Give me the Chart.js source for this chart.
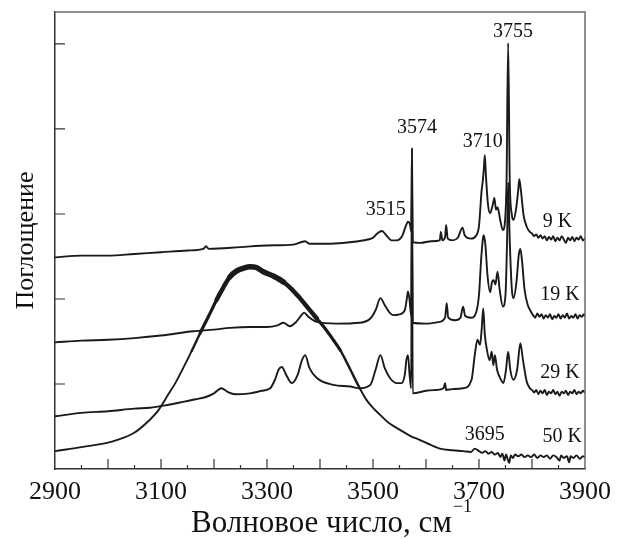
<!DOCTYPE html>
<html>
<head>
<meta charset="utf-8">
<script src="https://cdn.jsdelivr.net/npm/chart.js@4"></script>
<style>
  body { margin: 0; background: #fff; }
</style>
</head>
<body>
<canvas id="myChart" width="624" height="539"></canvas>
<script>
// [wavenumber, absorbance (offset)]
const spectrum9K = [
  [2900, 2.49], [2950, 2.51], [3000, 2.51], [3050, 2.53], [3100, 2.55], [3150, 2.57], [3180, 2.59],
  [3185, 2.62], [3190, 2.59], [3250, 2.61], [3300, 2.63], [3350, 2.64], [3365, 2.67], [3372, 2.68],
  [3380, 2.65], [3420, 2.65], [3460, 2.67], [3490, 2.70], [3500, 2.72], [3508, 2.77], [3517, 2.80],
  [3525, 2.75], [3535, 2.69], [3545, 2.69], [3555, 2.74], [3562, 2.86], [3566, 2.91], [3570, 2.87],
  [3572, 2.80], [3573.5, 3.77], [3575, 2.67], [3590, 2.66], [3610, 2.68], [3626, 2.69], [3628, 2.79],
  [3631, 2.69], [3636, 2.73], [3638, 2.87], [3641, 2.71], [3650, 2.69], [3660, 2.72], [3669, 2.84],
  [3673, 2.75], [3685, 2.71], [3695, 2.75], [3700, 2.86], [3705, 3.28], [3707, 3.38], [3709, 3.52],
  [3711, 3.69], [3713, 3.46], [3717, 3.11], [3721, 3.01], [3726, 3.11], [3729, 3.19], [3732, 3.05],
  [3735, 3.08], [3740, 2.93], [3745, 2.81], [3749, 2.91], [3752, 3.40], [3755, 5.01], [3758, 3.40],
  [3762, 2.99], [3765, 2.93], [3770, 3.06], [3774, 3.28], [3776, 3.41], [3779, 3.28], [3784, 2.99],
  [3790, 2.85], [3796, 2.79], [3800, 2.77], [3804, 2.74], [3808, 2.76], [3812, 2.72], [3816, 2.75],
  [3820, 2.71], [3824, 2.74], [3828, 2.69], [3832, 2.73], [3836, 2.70], [3840, 2.74], [3844, 2.68],
  [3848, 2.72], [3852, 2.69], [3856, 2.74], [3860, 2.70], [3864, 2.66], [3868, 2.72], [3872, 2.69],
  [3876, 2.73], [3880, 2.68], [3884, 2.72], [3888, 2.70], [3892, 2.74], [3896, 2.69], [3900, 2.71]
];

const spectrum19K = [
  [2900, 1.49], [2950, 1.51], [3000, 1.52], [3050, 1.54], [3100, 1.57], [3161, 1.62], [3200, 1.64],
  [3230, 1.66], [3270, 1.67], [3300, 1.67], [3320, 1.69], [3331, 1.72], [3343, 1.68], [3355, 1.73],
  [3365, 1.81], [3370, 1.84], [3378, 1.79], [3394, 1.73], [3431, 1.71], [3475, 1.72], [3495, 1.77],
  [3505, 1.87], [3514, 2.01], [3522, 1.93], [3530, 1.85], [3538, 1.81], [3550, 1.82], [3560, 1.87],
  [3564, 2.01], [3566, 2.09], [3569, 1.99], [3572, 1.80], [3573.5, 3.50], [3575, 1.72], [3600, 1.71],
  [3625, 1.73], [3636, 1.78], [3639, 1.95], [3642, 1.78], [3655, 1.75], [3665, 1.78], [3670, 1.91],
  [3674, 1.80], [3685, 1.78], [3695, 1.85], [3700, 2.05], [3704, 2.46], [3707, 2.69], [3709, 2.75],
  [3712, 2.64], [3716, 2.28], [3721, 2.08], [3725, 2.21], [3728, 2.22], [3731, 2.17], [3735, 2.32],
  [3739, 2.11], [3745, 1.91], [3750, 2.05], [3753, 2.69], [3755, 3.37], [3758, 2.69], [3762, 2.11],
  [3765, 2.01], [3771, 2.22], [3775, 2.52], [3778, 2.59], [3781, 2.46], [3786, 2.11], [3792, 1.93],
  [3798, 1.85], [3802, 1.81], [3806, 1.78], [3810, 1.83], [3814, 1.79], [3818, 1.82], [3822, 1.77],
  [3826, 1.81], [3830, 1.78], [3834, 1.82], [3838, 1.76], [3842, 1.80], [3846, 1.78], [3850, 1.82],
  [3854, 1.77], [3858, 1.81], [3862, 1.78], [3866, 1.83], [3870, 1.77], [3874, 1.80], [3878, 1.78],
  [3882, 1.82], [3886, 1.77], [3890, 1.81], [3894, 1.79], [3898, 1.82], [3900, 1.80]
];

const spectrum29K = [
  [2900, 0.62], [2950, 0.66], [3000, 0.68], [3050, 0.71], [3079, 0.72], [3110, 0.75], [3142, 0.79],
  [3165, 0.82], [3186, 0.85], [3200, 0.89], [3214, 0.95], [3225, 0.91], [3240, 0.88], [3268, 0.89],
  [3290, 0.92], [3306, 0.95], [3315, 1.05], [3322, 1.17], [3328, 1.20], [3336, 1.11], [3347, 1.01],
  [3358, 1.11], [3366, 1.28], [3372, 1.34], [3380, 1.19], [3394, 1.07], [3425, 0.99], [3457, 0.97],
  [3475, 0.95], [3495, 0.99], [3505, 1.17], [3514, 1.34], [3522, 1.19], [3532, 1.07], [3545, 1.01],
  [3554, 1.01], [3560, 1.11], [3563, 1.28], [3566, 1.34], [3569, 1.11], [3572, 0.95], [3573.5, 3.00],
  [3575, 0.89], [3600, 0.92], [3620, 0.93], [3633, 0.95], [3636, 1.01], [3638, 0.93], [3650, 0.94],
  [3670, 0.95], [3686, 1.05], [3692, 1.34], [3697, 1.52], [3702, 1.46], [3705, 1.64], [3708, 1.89],
  [3711, 1.58], [3715, 1.40], [3720, 1.28], [3724, 1.38], [3727, 1.22], [3730, 1.34], [3734, 1.17],
  [3740, 1.07], [3746, 1.01], [3751, 1.17], [3755, 1.38], [3759, 1.17], [3765, 1.05], [3772, 1.17],
  [3778, 1.48], [3783, 1.28], [3790, 1.03], [3796, 0.95], [3800, 0.93], [3804, 0.90], [3808, 0.93],
  [3812, 0.88], [3816, 0.92], [3820, 0.89], [3824, 0.93], [3828, 0.87], [3832, 0.91], [3836, 0.89],
  [3840, 0.93], [3844, 0.88], [3848, 0.91], [3852, 0.86], [3856, 0.91], [3860, 0.89], [3864, 0.92],
  [3868, 0.87], [3872, 0.91], [3876, 0.89], [3880, 0.93], [3884, 0.88], [3888, 0.91], [3892, 0.89],
  [3896, 0.92], [3900, 0.90]
];

const spectrum50K = [
  [2900, 0.21], [2953, 0.26], [3000, 0.31], [3016, 0.34], [3048, 0.42], [3079, 0.58], [3095, 0.69],
  [3111, 0.85], [3127, 1.01], [3142, 1.19], [3158, 1.39], [3174, 1.60], [3190, 1.80], [3205, 1.99],
  [3218, 2.14], [3230, 2.26], [3243, 2.33], [3255, 2.36], [3268, 2.38], [3280, 2.37], [3293, 2.32],
  [3312, 2.27], [3331, 2.20], [3346, 2.12], [3362, 2.01], [3378, 1.89], [3394, 1.77], [3410, 1.65],
  [3425, 1.52], [3438, 1.40], [3450, 1.26], [3462, 1.11], [3475, 0.95], [3488, 0.81], [3500, 0.72],
  [3513, 0.64], [3530, 0.54], [3551, 0.46], [3570, 0.39], [3589, 0.34], [3610, 0.28], [3626, 0.24],
  [3650, 0.22], [3670, 0.21], [3685, 0.20], [3692, 0.24], [3700, 0.21], [3706, 0.19], [3712, 0.21],
  [3718, 0.18], [3724, 0.20], [3730, 0.17], [3736, 0.19], [3740, 0.14], [3744, 0.18], [3748, 0.10],
  [3751, 0.17], [3754, 0.12], [3757, 0.07], [3760, 0.16], [3764, 0.13], [3768, 0.17], [3774, 0.15],
  [3780, 0.17], [3786, 0.14], [3792, 0.16], [3798, 0.14], [3804, 0.17], [3810, 0.13], [3816, 0.16],
  [3822, 0.14], [3828, 0.16], [3834, 0.12], [3840, 0.16], [3846, 0.14], [3852, 0.10], [3855, 0.16],
  [3860, 0.13], [3866, 0.15], [3870, 0.08], [3873, 0.15], [3878, 0.13], [3884, 0.16], [3890, 0.12],
  [3896, 0.15], [3900, 0.14]
];

const xLabelTicks = [2900, 3100, 3300, 3500, 3700, 3900];
const yTickValues = [1, 2, 3, 4, 5];

const annotations = [
  { text: '3755', wn: 3764, y: 5.14 },
  { text: '3574', wn: 3583, y: 4.01 },
  { text: '3710', wn: 3707, y: 3.85 },
  { text: '3515', wn: 3524, y: 3.05 },
  { text: '9 K',  wn: 3848, y: 2.91 },
  { text: '19 K', wn: 3853, y: 2.05 },
  { text: '29 K', wn: 3853, y: 1.13 },
  { text: '3695', wn: 3711, y: 0.40 },
  { text: '50 K', wn: 3857, y: 0.38 }
];

const LINE = '#1a1a1a';
const SERIF = '"Liberation Serif", "Times New Roman", serif';

function toPoints(arr) {
  return arr.map((p) => ({ x: p[0], y: p[1] }));
}

function lineSet(data, extra) {
  return Object.assign({
    data: toPoints(data),
    borderColor: LINE,
    borderWidth: 1.9,
    borderJoinStyle: 'round',
    borderCapStyle: 'round',
    cubicInterpolationMode: 'monotone',
    pointRadius: 0,
    fill: false,
  }, extra || {});
}

// the 50 K band is very noisy near its maximum, drawn as a thicker trace
function noisyWidth(c) {
  const xv = c.p0.parsed.x;
  if (xv >= 3230 && xv < 3331) return 5.5;
  if (xv >= 3205 && xv < 3394) return 4.5;
  if (xv >= 3174 && xv < 3438) return 3.2;
  if (xv >= 3158 && xv < 3475) return 2.4;
  return 1.9;
}

const frameAndText = {
  id: 'frameAndText',
  afterDraw(chart) {
    const { ctx, chartArea: a, scales: { x, y } } = chart;
    ctx.save();

    // top and right frame
    ctx.strokeStyle = '#6b6b6b';
    ctx.lineWidth = 1.5;
    ctx.beginPath();
    ctx.moveTo(a.left, a.top);
    ctx.lineTo(a.right, a.top);
    ctx.lineTo(a.right, a.bottom);
    ctx.stroke();

    // inward ticks
    ctx.strokeStyle = '#333';
    ctx.lineWidth = 1.2;
    ctx.beginPath();
    yTickValues.forEach((v) => {
      const py = y.getPixelForValue(v);
      ctx.moveTo(a.left, py);
      ctx.lineTo(a.left + 10, py);
    });
    for (let v = 2950; v < 3900; v += 50) {
      const px = x.getPixelForValue(v);
      const len = v % 100 === 0 ? 10 : 4;
      ctx.moveTo(px, a.bottom);
      ctx.lineTo(px, a.bottom - len);
    }
    ctx.stroke();

    // peak and temperature labels
    ctx.fillStyle = '#111';
    ctx.font = '20px ' + SERIF;
    ctx.textAlign = 'center';
    ctx.textBaseline = 'middle';
    annotations.forEach((n) => {
      ctx.fillText(n.text, x.getPixelForValue(n.wn), y.getPixelForValue(n.y));
    });

    // axis titles
    ctx.font = '31px ' + SERIF;
    const main = 'Волновое число, см';
    const w = ctx.measureText(main).width;
    ctx.font = '18px ' + SERIF;
    const sw = ctx.measureText('−1').width;
    const startX = 331 - (w + sw) / 2;
    ctx.textAlign = 'left';
    ctx.textBaseline = 'alphabetic';
    ctx.font = '31px ' + SERIF;
    ctx.fillText(main, startX, 532);
    ctx.font = '18px ' + SERIF;
    ctx.fillText('−1', startX + w + 1, 512);

    ctx.translate(26, (a.top + a.bottom) / 2);
    ctx.rotate(-Math.PI / 2);
    ctx.font = '26px ' + SERIF;
    ctx.textAlign = 'center';
    ctx.textBaseline = 'middle';
    ctx.fillText('Поглощение', 0, 0);

    ctx.restore();
  }
};

const ctx = document.getElementById('myChart').getContext('2d');

const myChart = new Chart(ctx, {
  type: 'line',
  data: {
    datasets: [
      lineSet(spectrum9K),
      lineSet(spectrum19K),
      lineSet(spectrum29K),
      lineSet(spectrum50K, { segment: { borderWidth: noisyWidth } }),
    ],
  },
  options: {
    responsive: false,
    animation: false,
    layout: { padding: { top: 12, right: 39, left: 0, bottom: 0 } },
    plugins: {
      legend: { display: false },
      tooltip: { enabled: false },
    },
    scales: {
      x: {
        type: 'linear',
        min: 2900,
        max: 3900,
        afterFit: (s) => { s.height = 70; },
        afterBuildTicks: (s) => { s.ticks = xLabelTicks.map((v) => ({ value: v })); },
        grid: { display: false, drawTicks: false },
        border: { display: true, color: '#333', width: 1.5 },
        ticks: {
          color: '#111',
          padding: 8,
          maxRotation: 0,
          font: { family: SERIF, size: 26 },
          callback: (v) => String(v),
        },
      },
      y: {
        type: 'linear',
        min: 0,
        max: 5.376,
        afterFit: (s) => { s.width = 55; },
        grid: { display: false, drawTicks: false },
        border: { display: true, color: '#333', width: 1.5 },
        ticks: { display: false },
      },
    },
  },
  plugins: [frameAndText],
});
</script>
</body>
</html>
